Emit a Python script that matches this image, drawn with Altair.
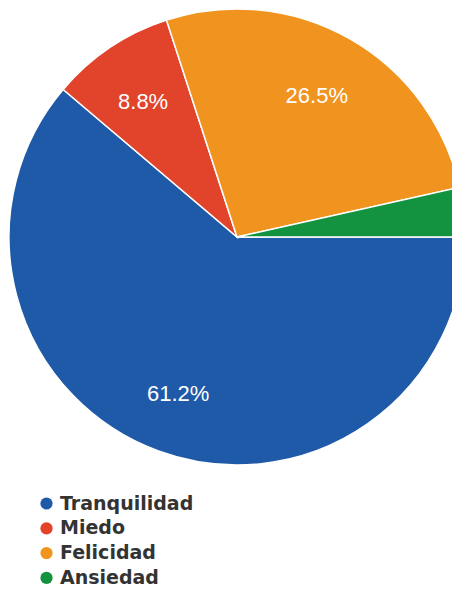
import altair as alt
import pandas as pd
import math

categories = ["Tranquilidad", "Miedo", "Felicidad", "Ansiedad"]
values = [61.2, 8.8, 26.5, 3.5]
labels = ["61.2%", "8.8%", "26.5%", ""]
colors = ["#1f5aa8", "#e2432b", "#f0941f", "#13933f"]

df = pd.DataFrame({
    "cat": categories,
    "val": values,
    "label": labels,
    "ord": list(range(len(categories))),
})

theta_scale = alt.Scale(range=[math.pi / 2, math.pi / 2 + 2 * math.pi])

base = alt.Chart(df).encode(
    theta=alt.Theta("val:Q", stack=True, scale=theta_scale),
    order=alt.Order("ord:Q"),
)

pie = base.mark_arc(outerRadius=228, stroke="white", strokeWidth=1.5).encode(
    x=alt.value(229),
    y=alt.value(229),
    color=alt.Color(
        "cat:N",
        sort=categories,
        scale=alt.Scale(domain=categories, range=colors),
        legend=alt.Legend(
            title=None,
            orient="none",
            legendX=29,
            legendY=486,
            symbolType="circle",
            symbolSize=150,
            symbolStrokeWidth=0,
            labelFont="DejaVu Sans",
            labelFontWeight="bold",
            labelFontSize=19,
            labelColor="#333333",
            rowPadding=4.8,
            labelOffset=4,
        ),
    ),
)

text = base.mark_text(
    radius=165, fontSize=22, font="Liberation Sans", color="white"
).encode(
    x=alt.value(227),
    y=alt.value(231),
    text="label:N",
)

chart = (pie + text).properties(
    width=444,
    height=582,
    padding=0,
    autosize=alt.AutoSizeParams(type="none"),
).configure_view(stroke=None)

chart.save("out.html", embed_options={"renderer": "svg", "actions": False})
